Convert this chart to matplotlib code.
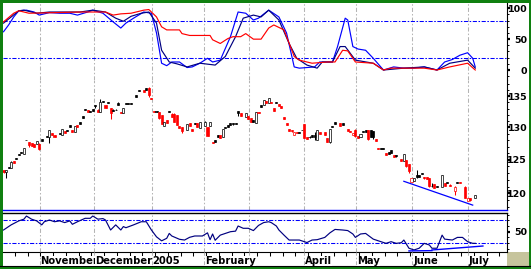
"""
Daily candles with stochastics (top) and RSI (bottom)
"""

import matplotlib

matplotlib.use("Agg")
import matplotlib.pyplot as plt
import numpy as np
from matplotlib.patches import Rectangle
from matplotlib.ticker import FixedLocator, NullFormatter

W, H = 531, 269

# --------------------------------
#       DATA
# --------------------------------
days = [
    0, 1, 2, 3, 4, 5, 6, 7, 8, 9,
    10, 11, 12, 13, 14, 15, 17, 18, 19, 20,
    22, 23, 24, 25, 26, 27, 28, 29, 30, 31,
    32, 33, 34, 35, 36, 37, 38, 39, 40, 41,
    42, 43, 44, 45, 46, 47, 48, 49, 50, 52,
    53, 55, 56, 57, 58, 59, 60, 61, 62, 63,
    64, 65, 66, 67, 68, 69, 70, 72, 73, 74,
    75, 76, 77, 79, 80, 81, 82, 83, 84, 85,
    86, 87, 88, 89, 90, 91, 92, 93, 95, 96,
    97, 98, 99, 100, 101, 102, 103, 104, 105, 106,
    107, 108, 109, 110, 111, 112, 113, 114, 115, 116,
    117, 118, 119, 120, 121, 122, 123, 124, 126, 127,
    128, 129, 130, 132, 133, 135, 136, 137, 138, 139,
    140, 141, 142, 143, 144, 145, 146, 147, 148, 149,
    150, 151, 152, 153, 154, 156, 157, 158, 159, 160,
    161, 162, 163, 164, 165, 166, 167, 168, 169, 170,
    172, 173, 174, 175, 177, 178, 179, 181, 182, 183,
    185,
]
opens = [
    123.38, 123.16, 123.88, 123.72, 124.81, 125.21, 125.82, 126.18, 125.87, 128.08,
    127.72, 127.57, 127.41, 127.37, 127.41, 128.11, 128.65, 128.54, 129.12, 128.81,
    129.12, 128.81, 129.44, 129.55, 130.38, 129.59, 129.33, 130.38, 130.90, 131.81,
    132.93, 132.77, 132.56, 132.88, 133.58, 132.85, 132.45, 134.19, 133.58, 134.02,
    133.10, 132.85, 132.85, 133.99, 132.50, 132.24, 133.91, 133.91, 133.88, 135.21,
    135.99, 135.96, 136.29, 136.45, 134.67, 132.66, 132.61, 132.45, 131.97, 130.27,
    131.17, 132.66, 132.21, 132.21, 131.97, 130.27, 130.00, 129.59, 130.65, 129.70,
    130.75, 130.65, 129.91, 130.27, 130.07, 130.27, 127.77, 128.03, 128.81, 128.81,
    128.54, 130.11, 130.38, 130.65, 130.70, 130.70, 132.61, 132.29, 131.70, 131.81,
    131.44, 131.17, 130.75, 132.50, 133.58, 133.58, 134.28, 133.86, 134.12, 133.05,
    134.12, 133.74, 133.42, 131.70, 130.75, 129.75, 129.55, 128.81, 129.33, 129.28,
    129.64, 130.54, 128.45, 128.57, 128.73, 128.81, 128.03, 129.33, 129.20, 128.30,
    127.66, 130.27, 130.85, 130.75, 130.70, 129.75, 129.41, 128.81, 129.59, 128.65,
    128.54, 129.39, 129.59, 129.52, 129.59, 129.44, 128.14, 126.79, 126.79, 126.75,
    126.07, 126.18, 126.48, 125.72, 125.72, 125.11, 124.85, 124.89, 124.36, 121.64,
    121.86, 122.71, 122.71, 123.01, 122.46, 122.37, 122.27, 121.09, 121.38, 121.09,
    120.99, 121.50, 121.71, 121.28, 120.32, 121.68, 121.68, 120.99, 118.95, 119.26,
    119.30,
]
highs = [
    123.45, 123.46, 123.90, 124.75, 124.83, 125.23, 125.84, 126.20, 126.77, 128.10,
    127.77, 127.59, 127.43, 127.90, 127.57, 128.13, 128.67, 129.61, 129.14, 128.83,
    129.14, 129.72, 129.46, 129.57, 130.40, 129.61, 130.29, 130.40, 130.92, 131.83,
    132.95, 132.79, 132.58, 132.90, 133.60, 132.87, 134.51, 134.21, 133.60, 134.04,
    133.12, 132.87, 132.87, 134.01, 132.52, 133.07, 133.93, 133.93, 133.90, 135.23,
    136.01, 135.98, 136.31, 136.59, 134.69, 132.68, 132.63, 132.50, 131.99, 130.92,
    131.19, 132.68, 132.23, 132.23, 131.99, 130.29, 130.11, 130.51, 130.67, 129.72,
    130.77, 130.67, 130.84, 130.95, 130.09, 130.82, 127.79, 128.05, 128.83, 128.83,
    129.72, 130.13, 130.40, 130.67, 130.72, 130.72, 132.63, 132.31, 132.36, 131.83,
    131.46, 131.19, 132.52, 132.52, 133.60, 134.42, 134.30, 134.69, 134.14, 133.07,
    134.14, 133.76, 133.44, 131.72, 130.77, 129.77, 129.57, 129.35, 129.35, 129.30,
    129.66, 130.56, 128.47, 128.59, 128.75, 129.33, 129.61, 129.35, 129.22, 128.32,
    129.72, 130.29, 130.87, 130.77, 130.72, 129.77, 129.43, 129.19, 129.70, 128.67,
    128.98, 129.41, 129.61, 129.54, 129.61, 129.46, 128.16, 126.81, 126.81, 126.77,
    126.09, 126.20, 126.50, 125.74, 125.74, 125.13, 125.89, 124.96, 124.38, 122.29,
    122.32, 123.46, 122.73, 123.03, 122.48, 122.39, 122.29, 121.53, 121.40, 121.11,
    122.73, 121.52, 121.73, 121.30, 121.01, 121.70, 121.70, 121.01, 119.29, 119.28,
    119.80,
]
lows = [
    123.05, 122.27, 123.74, 123.70, 124.49, 125.09, 125.70, 126.01, 125.85, 127.96,
    127.00, 127.08, 127.00, 127.35, 126.48, 127.93, 128.48, 127.61, 128.79, 128.52,
    128.94, 128.79, 129.06, 129.42, 130.09, 129.21, 129.31, 130.00, 130.52, 131.52,
    132.80, 132.38, 132.43, 132.64, 133.05, 132.43, 132.43, 134.05, 133.03, 133.89,
    131.28, 132.67, 132.70, 133.64, 132.22, 132.22, 133.72, 133.78, 133.80, 134.91,
    135.80, 135.75, 136.10, 134.93, 134.49, 132.38, 132.43, 131.33, 130.52, 130.25,
    130.72, 132.38, 131.63, 130.83, 130.36, 129.84, 129.17, 129.57, 130.25, 129.46,
    130.47, 130.09, 129.89, 130.25, 128.63, 130.25, 127.50, 127.75, 128.52, 128.28,
    128.52, 129.84, 130.09, 130.36, 130.44, 130.52, 131.81, 131.79, 131.68, 131.26,
    130.88, 130.91, 130.73, 132.22, 133.29, 133.56, 133.94, 133.84, 133.84, 132.64,
    133.84, 133.40, 133.03, 131.31, 130.36, 129.46, 129.34, 128.79, 129.06, 129.10,
    129.53, 128.32, 128.12, 128.40, 128.48, 128.03, 128.01, 128.94, 128.79, 127.75,
    127.64, 130.00, 130.52, 130.20, 130.36, 129.46, 129.20, 128.79, 128.45, 128.28,
    128.52, 129.26, 129.31, 128.09, 128.48, 128.11, 127.90, 126.57, 126.62, 126.63,
    125.70, 125.85, 126.05, 125.45, 125.48, 124.79, 124.83, 123.91, 122.96, 121.62,
    121.84, 122.23, 122.43, 122.84, 122.18, 122.06, 121.00, 120.90, 120.73, 120.89,
    120.97, 121.07, 121.48, 121.07, 119.78, 121.51, 121.48, 119.28, 118.93, 118.96,
    119.28,
]
closes = [
    123.08, 123.46, 123.76, 124.70, 124.51, 125.11, 125.72, 126.03, 126.75, 127.98,
    127.26, 127.10, 127.02, 127.88, 126.64, 127.95, 128.50, 129.59, 128.81, 128.54,
    128.96, 129.70, 129.08, 129.44, 130.11, 129.23, 130.27, 130.02, 130.54, 131.54,
    132.82, 132.40, 132.45, 132.66, 133.42, 132.45, 134.02, 134.07, 133.05, 133.91,
    132.29, 132.69, 132.72, 133.66, 132.24, 133.05, 133.74, 133.80, 133.82, 134.93,
    135.82, 135.77, 136.12, 135.21, 134.51, 132.40, 132.45, 131.49, 130.54, 130.90,
    130.74, 132.40, 131.65, 130.85, 130.38, 129.86, 129.44, 130.49, 130.27, 129.48,
    130.49, 130.11, 130.82, 130.85, 128.65, 130.80, 127.52, 127.77, 128.54, 128.30,
    129.70, 129.86, 130.11, 130.38, 130.46, 130.54, 132.29, 131.81, 132.34, 131.28,
    130.90, 130.93, 132.50, 132.24, 133.31, 134.40, 133.96, 134.67, 133.86, 132.66,
    133.86, 133.42, 133.05, 131.33, 130.38, 129.48, 129.36, 129.33, 129.08, 129.12,
    129.55, 128.34, 128.14, 128.42, 128.50, 128.53, 129.59, 128.96, 128.81, 127.77,
    129.70, 130.02, 130.54, 130.22, 130.38, 129.48, 129.22, 129.17, 128.65, 128.30,
    128.96, 129.28, 129.33, 128.11, 128.50, 128.55, 127.92, 126.59, 126.64, 126.65,
    125.72, 125.87, 126.07, 125.47, 125.50, 124.81, 125.87, 124.06, 123.31, 122.27,
    122.30, 122.42, 122.45, 122.86, 122.20, 122.08, 121.02, 121.05, 120.75, 120.91,
    122.71, 121.09, 121.50, 121.09, 120.99, 121.53, 121.50, 119.30, 119.27, 118.98,
    119.78,
]

# price trend line (start / end)
trend_days = [157, 184]
trend_prices = [121.77, 118.30]

# stochastics: fast %K (blue), %D (navy), slow (red)
k_days = [0, 2, 4, 6, 9, 12, 14, 18, 22, 26, 29, 33, 35, 39, 43, 46, 48, 51, 55, 58,
          60, 62, 64, 66, 69, 72, 74, 77, 80, 82, 85, 89, 92, 95, 98, 100, 104, 108,
          111, 114, 116, 122, 124, 129, 131, 134, 135, 137, 139, 142, 145, 149, 153,
          157, 161, 165, 170, 173, 176, 179, 182, 184, 185]
k_vals = [62, 73, 86, 96, 97, 94, 89, 93, 92, 92, 89, 94, 97, 92, 78, 68, 76, 84, 94, 92,
          60, 11, 7, 13, 13, 4, 5, 11, 19, 13, 16, 54, 94, 92, 81, 84, 97, 86,
          60, 5, 3, 5, 13, 13, 38, 84, 81, 38, 34, 32, 19, 0, 5,
          3, 3, 5, 0, 13, 17, 24, 28, 19, 5]
d_days = [0, 3, 6, 8, 13, 18, 24, 30, 35, 40, 44, 47, 50, 54, 57, 60, 62, 65, 68, 72,
          77, 83, 87, 91, 94, 98, 101, 104, 108, 112, 115, 119, 123, 125, 129, 132,
          134, 138, 145, 149, 157, 165, 170, 175, 182, 185]
d_vals = [76, 86, 96, 97, 92, 94, 94, 94, 97, 94, 84, 79, 87, 92, 94, 76, 32, 13, 10, 5,
          11, 8, 22, 54, 84, 89, 86, 97, 81, 43, 19, 8, 3, 13, 13, 38,
          38, 16, 11, 0, 3, 5, 0, 11, 16, 3]
s_days = [0, 4, 6, 10, 20, 30, 40, 43, 46, 50, 55, 57, 60, 62, 64, 69, 70, 73, 81, 82,
          85, 88, 90, 93, 95, 98, 101, 104, 106, 110, 114, 116, 121, 127, 130, 133,
          135, 138, 145, 149, 152, 165, 170, 175, 182, 185]
s_vals = [78, 92, 96, 92, 93, 94, 94, 89, 91, 92, 97, 98, 86, 70, 65, 65, 59, 56, 56, 49,
          43, 51, 54, 54, 59, 50, 50, 68, 73, 65, 22, 16, 11, 13, 13, 32,
          31, 13, 11, 0, 3, 3, 0, 5, 11, 0]

# RSI
rsi_days = [0, 3, 6, 8, 9, 11, 13, 15, 16, 18, 20, 22, 24, 26, 27, 29, 32, 34, 35, 37,
            39, 40, 42, 44, 46, 47, 48, 51, 54, 56, 58, 60, 62, 64, 65, 66, 69, 71, 73,
            75, 78, 80, 81, 82, 83, 85, 89, 91, 92, 94, 96, 98, 100, 102, 104, 105, 107,
            108, 110, 112, 116, 119, 121, 123, 126, 128, 130, 133, 135, 137, 138, 140,
            142, 145, 148, 150, 152, 154, 156, 157, 159, 161, 163, 165, 167, 168, 170,
            172, 173, 176, 178, 180, 182, 184, 185]
rsi_vals = [53, 62, 69, 72, 77.5, 72, 69, 62, 67.5, 70.5, 67.5, 69, 66, 69, 63, 67.5,
            73.5, 73.5, 77.5, 72, 73, 70.5, 53, 62, 53, 59, 57, 62, 67.5, 67.5, 53, 41,
            34, 38.4, 47, 42.5, 36.7, 35.4, 40.2, 42.5, 42.5, 48, 36, 46, 35, 44, 50, 51,
            60, 56, 56, 52, 61, 66, 67.5, 66, 60, 53, 44, 35.4, 35.4, 31, 35.4, 36, 40,
            48, 54, 53, 52, 46, 40, 46, 47, 37, 32.5, 29.6, 32.5, 29.6, 30.7, 35.4, 21,
            18, 21, 29.6, 26.7, 21, 21, 44, 37, 35.4, 40, 40, 32.5, 29.6, 29.6]
rsi_trend_a_days = [159, 168]
rsi_trend_a_vals = [16.3, 16.8]
rsi_trend_b_days = [168, 188]
rsi_trend_b_vals = [17.9, 24.9]

# month separators (in trading-day units) and their labels
month_pos = [14.2, 35.4, 58.1, 78.7, 96.4, 118.0, 138.4, 160.3, 182.0]
month_names = ["November", "December", "2005", "February", "", "April", "May", "June", "July"]

# --------------------------------
#       STYLE
# --------------------------------
RED = "#ff0000"
BLUE = "#0000ff"
NAVY = "#000080"
GRID = "#b4b4b4"
GREEN = "#108010"
KHAKI = "#c6c49c"
XLIM = (-0.2, 197.45)
GRID_LS = (0, (4, 2, 1.4, 2))
LEVEL_LS = (0, (4, 1.5, 1.5, 1.5))

plt.rcParams["font.family"] = ["DejaVu Sans"]


def px_axes(fig, x0, y0, x1, y1):
    """Add an axes from a pixel box (origin top-left)."""
    return fig.add_axes([x0 / W, 1 - y1 / H, (x1 - x0) / W, (y1 - y0) / H])


def month_grid(ax):
    for m in month_pos:
        ax.axvline(m, color=GRID, lw=0.75, ls=GRID_LS, zorder=0.5)


def right_axis(ax, major, labels, minor):
    ax.set_xlim(*XLIM)
    ax.set_xticks([])
    for side in ("left", "top", "bottom"):
        ax.spines[side].set_visible(False)
    ax.spines["right"].set_linewidth(0.8)
    ax.yaxis.tick_right()
    ax.set_yticks(major)
    ax.set_yticklabels(labels)
    ax.yaxis.set_minor_locator(FixedLocator(minor))
    ax.yaxis.set_minor_formatter(NullFormatter())
    ax.tick_params(axis="y", which="major", direction="out", length=2.3, width=1.6,
                   pad=12.2, labelsize=6.8)
    ax.tick_params(axis="y", which="minor", direction="out", length=1.4, width=0.7)
    for lab in ax.get_yticklabels():
        lab.set_fontweight("bold")
        lab.set_horizontalalignment("right")
    month_grid(ax)


fig = plt.figure(figsize=(W / 100, H / 100), dpi=100)

# frame
bg = fig.add_axes([0, 0, 1, 1])
bg.set_xlim(0, W)
bg.set_ylim(H, 0)
bg.axis("off")
bg.add_patch(Rectangle((507, 252), 22, 13.5, facecolor=KHAKI, edgecolor="none"))
bg.add_patch(Rectangle((0, 0), 2.6, H, facecolor=GREEN, edgecolor="none"))
bg.add_patch(Rectangle((0, 0), W, 2.6, facecolor=GREEN, edgecolor="none"))
bg.add_patch(Rectangle((529, 0), 2, H, facecolor=GREEN, edgecolor="none"))
bg.add_patch(Rectangle((0, 266), W, 3, facecolor=GREEN, edgecolor="none"))
bg.plot([0, W], [265.5, 265.5], color="black", lw=0.8)

# --- stochastics ---
ax_st = px_axes(fig, 3, 3, 507, 80)
right_axis(ax_st, [0, 50, 100], ["0", "50", "100"], np.arange(-10, 110, 10))
ax_st.set_ylim(-16.2, 108.6)
for level in (80, 20):
    ax_st.axhline(level, color=BLUE, lw=0.75, ls=LEVEL_LS, zorder=1)
ax_st.plot(k_days, k_vals, color=BLUE, lw=0.85, zorder=3)
ax_st.plot(d_days, d_vals, color=NAVY, lw=0.85, zorder=3)
ax_st.plot(s_days, s_vals, color=RED, lw=0.85, zorder=3)

# --- price candles ---
ax_p = px_axes(fig, 3, 80, 507, 210)
ax_p.set_yscale("log")
right_axis(ax_p, [120, 125, 130, 135], ["120", "125", "130", "135"], np.arange(118, 138))
ax_p.spines["bottom"].set_visible(True)
ax_p.spines["bottom"].set_color(BLUE)
ax_p.spines["bottom"].set_linewidth(1.0)
ax_p.set_ylim(117.60, 137.70)

o = np.array(opens)
c = np.array(closes)
prev_close = np.r_[o[0], c[:-1]]
edge = np.where(c < prev_close, RED, "#000000")
face = np.where(c > o, "#ffffff", edge)
ax_p.vlines(days, lows, highs, colors=edge, lw=0.75, zorder=2)
ax_p.bar(days, c - o, bottom=o, width=0.8, color=face, edgecolor=edge,
         linewidth=0.5, zorder=3)
ax_p.plot(trend_days, trend_prices, color=BLUE, lw=0.9, zorder=4)

# --- RSI ---
ax_r = px_axes(fig, 3, 212.5, 507, 252)
right_axis(ax_r, [50], ["50"], np.arange(20, 90, 10))
ax_r.spines["top"].set_visible(True)
ax_r.spines["bottom"].set_visible(True)
ax_r.spines["top"].set_linewidth(1.0)
ax_r.spines["bottom"].set_linewidth(0.8)
ax_r.set_ylim(14.4, 83.7)
for level in (70, 30):
    ax_r.axhline(level, color=BLUE, lw=0.75, ls=LEVEL_LS, zorder=1)
ax_r.plot(rsi_days, rsi_vals, color=NAVY, lw=0.85, zorder=3)
ax_r.plot(rsi_trend_a_days, rsi_trend_a_vals, color=BLUE, lw=1.0, zorder=4)
ax_r.plot(rsi_trend_b_days, rsi_trend_b_vals, color=BLUE, lw=1.0, zorder=4)

# --- date band ---
ax_d = px_axes(fig, 3, 252, 507, 265)
ax_d.set_xlim(*XLIM)
ax_d.set_ylim(0, 1)
ax_d.axis("off")
month_grid(ax_d)
ax_d.vlines(np.arange(4.5, 197, 5), 0.68, 1.0, colors="black", lw=0.75)
for m, name in zip(month_pos, month_names):
    if name:
        ax_d.text(m + 0.35, 0.3, name, ha="left", va="center", fontsize=7.2,
                  fontweight="bold", color="black", zorder=3,
                  bbox=dict(boxstyle="square,pad=0", facecolor="white", edgecolor="none"))

fig.savefig("out.png", dpi=100)
